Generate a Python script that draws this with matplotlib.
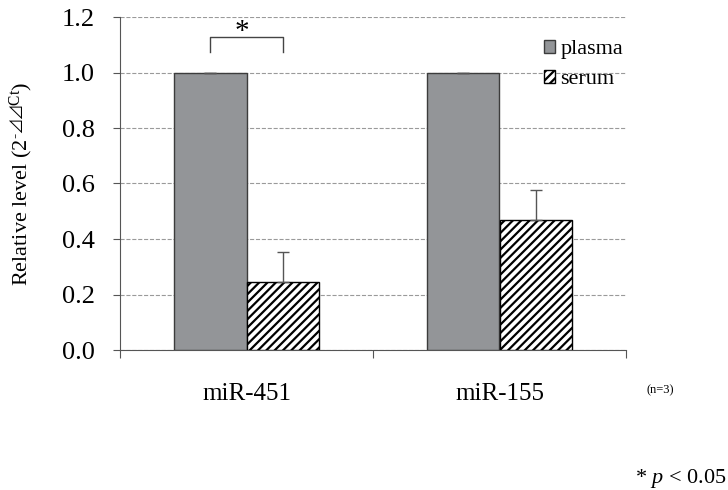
import numpy as np
import matplotlib
matplotlib.use('Agg')
from matplotlib import pyplot as plt

plt.rcParams['font.family'] = ['Liberation Serif', 'DejaVu Serif']
plt.rcParams['mathtext.fontset'] = 'custom'
plt.rcParams['mathtext.rm'] = 'Liberation Serif'
plt.rcParams['mathtext.it'] = 'Liberation Serif:italic'
plt.rcParams['mathtext.fallback'] = 'stix'
plt.rcParams['hatch.linewidth'] = 1.6

# data
genes = ['miR-451', 'miR-155']
plasma = [1.0, 1.0]
plasma_err = [0.0, 0.0]
serum = [0.246, 0.467]
serum_err = [0.108, 0.108]

fig = plt.figure(figsize=(7.28, 4.9), dpi=100)
ax = fig.add_axes([120/728, 1-350/490, 506/728, 333/490])

x = np.arange(len(genes))
w = 0.285
ax.bar(x - w/2, plasma, w, color='#939598', edgecolor='#3c3c3c', linewidth=1,
       label='plasma', zorder=3)
ax.bar(x + w/2, serum, w, color='white', edgecolor='black', hatch='////',
       linewidth=1, label='serum', zorder=3)
ax.errorbar(x - w/2, plasma, yerr=[np.zeros(2), plasma_err], fmt='none',
            ecolor='#555555', elinewidth=1, capsize=4, zorder=4)
ax.errorbar(x + w/2, serum, yerr=[np.zeros(2), serum_err], fmt='none',
            ecolor='#555555', elinewidth=1, capsize=4, zorder=4)

ax.set_xlim(-0.5, 1.5)
ax.set_ylim(0, 1.2)
ax.set_yticks(np.arange(0, 1.21, 0.2))
ax.set_yticklabels(['%.1f' % v for v in np.arange(0, 1.21, 0.2)], fontsize=19)
ax.set_xticks([-0.5, 0.5, 1.5])
ax.set_xticklabels([])
ax.set_xticks(x, minor=True)
ax.set_xticklabels(genes, minor=True, fontsize=18)
ax.tick_params(axis='x', which='minor', length=0, pad=24)
ax.tick_params(axis='x', which='major', direction='out', length=6, color='#555555')
ax.tick_params(axis='y', direction='out', length=5, color='#555555', pad=13)
for s in ['top', 'right']:
    ax.spines[s].set_visible(False)
for s in ['left', 'bottom']:
    ax.spines[s].set_color('#555555')
ax.yaxis.grid(True, linestyle='--', color='#9a9a9a', linewidth=0.8, zorder=0)
ax.set_axisbelow(True)

ax.set_ylabel(r'Relative level (2$^{\text{-⊿⊿Ct}}$)', fontsize=16, labelpad=20)

# significance bracket
bx1, bx2 = x[0] - w/2, x[0] + w/2
ax.plot([bx1, bx1, bx2, bx2], [1.073, 1.127, 1.127, 1.073], color='#444444',
        linewidth=1, zorder=4)
ax.text(x[0] - 0.02, 1.10, '*', ha='center', va='bottom', fontsize=21)

leg = ax.legend(loc='upper right', bbox_to_anchor=(1.012, 0.958), frameon=False,
                fontsize=16, handlelength=0.5, handleheight=0.5,
                handletextpad=0.25, labelspacing=0.5, borderaxespad=0)

fig.text(660/728, 1-390/490, '(n=3)', fontsize=9, ha='center', va='center')
fig.text(0.998, 1-478/490, r'* $\mathit{p}$ < 0.05', fontsize=16, ha='right', va='center')

fig.savefig('out.png', dpi=100)
